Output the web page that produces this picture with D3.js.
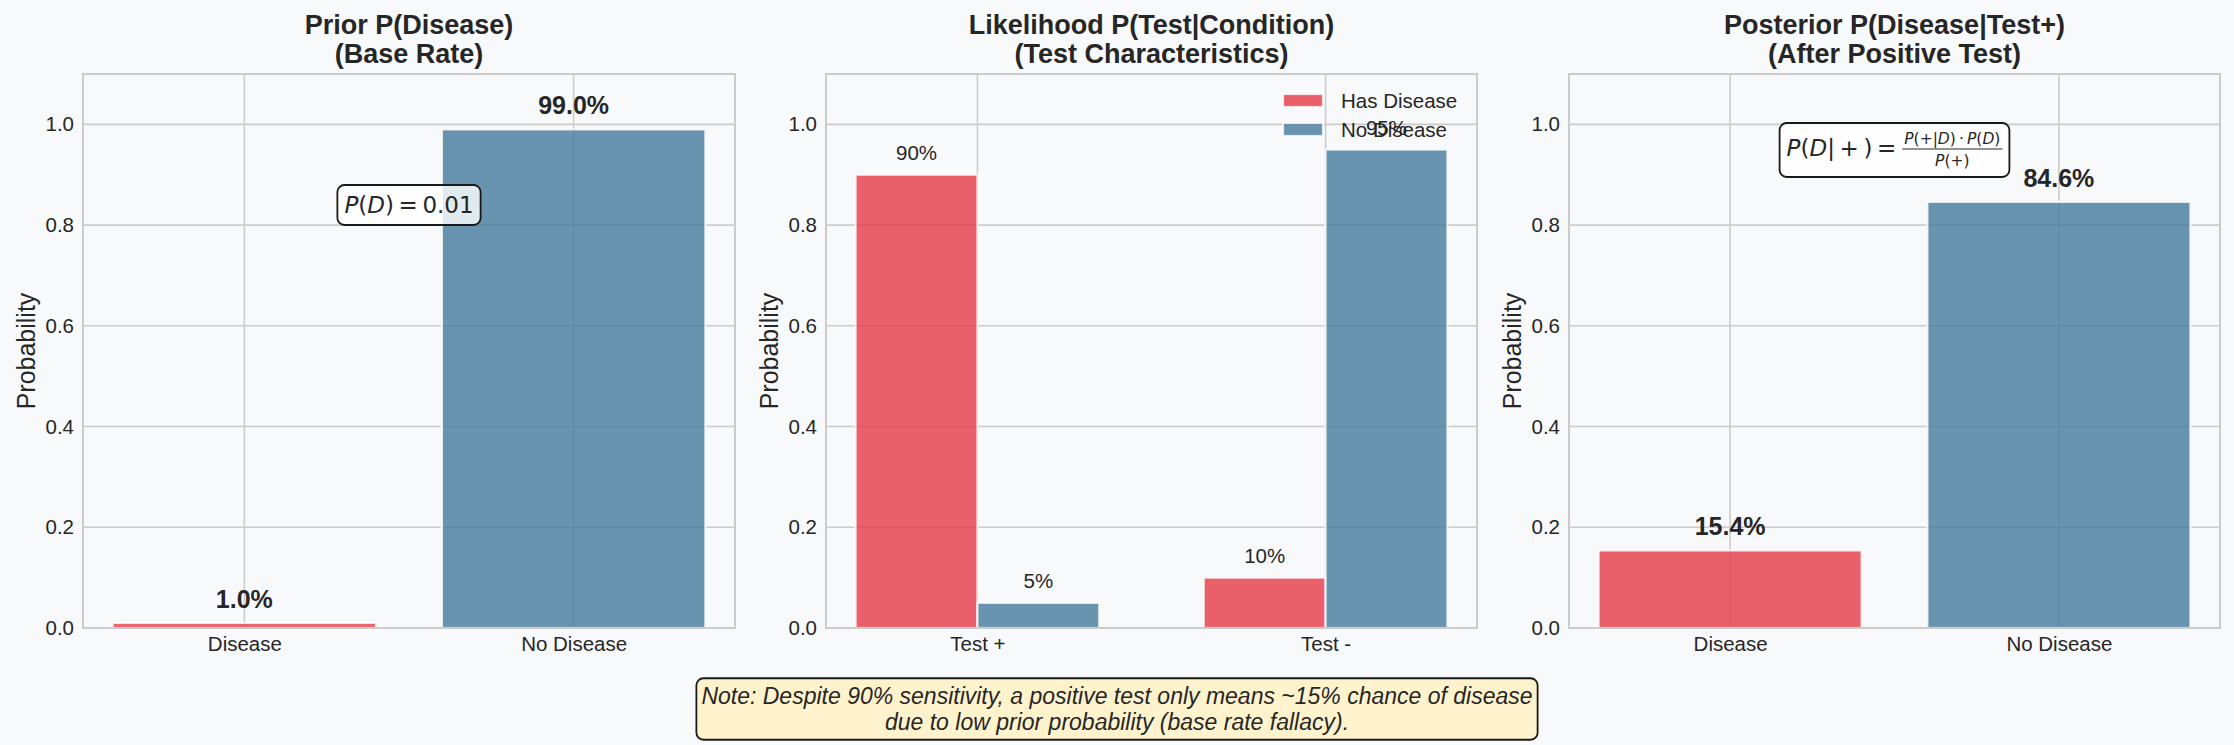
<!DOCTYPE html>
<html>
<head>
<meta charset="utf-8">
<script src="https://cdn.jsdelivr.net/npm/d3@7"></script>
<style>
  body { margin: 0; background: #f8f9fa; }
  svg text { fill: #262626; }
</style>
</head>
<body>
<script>
// data
const priorCats = ["Disease", "No Disease"];
const priorVals = [0.01, 0.99];
const testCats = ["Test +", "Test -"];
const hasDiseaseVals = [0.90, 0.10];
const noDiseaseVals = [0.05, 0.95];
const postCats = ["Disease", "No Disease"];
const postVals = [0.154, 0.846];
const yTicks = [0, 0.2, 0.4, 0.6, 0.8, 1.0];
const legendLabels = ["Has Disease", "No Disease"];
const titles = [
  ["Prior P(Disease)", "(Base Rate)"],
  ["Likelihood P(Test|Condition)", "(Test Characteristics)"],
  ["Posterior P(Disease|Test+)", "(After Positive Test)"]
];
const noteLines = [
  "Note: Despite 90% sensitivity, a positive test only means ~15% chance of disease",
  "due to low prior probability (base rate fallacy)."
];

const W = 2234, H = 745;
const RED = "#E63946", BLUE = "#457B9D";
const SANS = "'Liberation Sans', Arial, sans-serif";
const MATH = "'DejaVu Sans', sans-serif";

const svg = d3.select("body").append("svg")
  .attr("width", W).attr("height", H)
  .style("background", "#f8f9fa");

const axesBoxes = [
  { left: 83, right: 735 },
  { left: 826, right: 1477 },
  { left: 1569, right: 2220 }
];
const axTop = 74, axBottom = 628;
const y = d3.scaleLinear().domain([0, 1.1]).range([axBottom, axTop]);

function panel(i, cats, xDomain) {
  const box = axesBoxes[i];
  const x = d3.scaleLinear().domain(xDomain).range([box.left, box.right]);
  const g = svg.append("g");

  // grid
  g.append("g").selectAll("line").data(yTicks).join("line")
    .attr("x1", box.left).attr("x2", box.right)
    .attr("y1", d => y(d)).attr("y2", d => y(d))
    .attr("stroke", "#cccccc").attr("stroke-width", 1.6);
  g.append("g").selectAll("line").data(cats.map((c, k) => k)).join("line")
    .attr("x1", d => x(d)).attr("x2", d => x(d))
    .attr("y1", axTop).attr("y2", axBottom)
    .attr("stroke", "#cccccc").attr("stroke-width", 1.6);

  // axes
  const ya = g.append("g").attr("transform", `translate(${box.left},0)`)
    .call(d3.axisLeft(y).tickValues(yTicks).tickFormat(d3.format(".1f")).tickSize(0).tickPadding(9));
  const xa = g.append("g").attr("transform", `translate(0,${axBottom})`)
    .call(d3.axisBottom(x).tickValues(cats.map((c, k) => k)).tickFormat(k => cats[k]).tickSize(0).tickPadding(8));
  [ya, xa].forEach(a => {
    a.select(".domain").remove();
    a.selectAll("text").attr("font-family", SANS).attr("font-size", 20.5).style("fill", "#262626");
  });

  // y label
  g.append("text")
    .attr("transform", `translate(${box.left - 57},${(axTop + axBottom) / 2}) rotate(-90)`)
    .attr("text-anchor", "middle").attr("dominant-baseline", "central")
    .attr("font-family", SANS).attr("font-size", 25)
    .text("Probability");

  // title
  const cx = (box.left + box.right) / 2;
  g.append("g").selectAll("text").data(titles[i]).join("text")
    .attr("x", cx).attr("y", (d, k) => 34 + k * 29)
    .attr("text-anchor", "middle")
    .attr("font-family", SANS).attr("font-size", 27).attr("font-weight", "bold")
    .text(d => d);

  const marks = svg.append("g");
  const front = svg.append("g");
  // spines on top of bars
  front.append("rect")
    .attr("x", box.left).attr("y", axTop)
    .attr("width", box.right - box.left).attr("height", axBottom - axTop)
    .attr("fill", "none").attr("stroke", "#cccccc").attr("stroke-width", 2);
  return { x, marks, front, cx };
}

function bars(p, xs, vals, width, color) {
  p.marks.append("g").selectAll("rect").data(vals).join("rect")
    .attr("x", (d, k) => p.x(xs[k] - width / 2))
    .attr("width", (d, k) => p.x(xs[k] + width / 2) - p.x(xs[k] - width / 2))
    .attr("y", d => y(d))
    .attr("height", d => y(0) - y(d))
    .attr("fill", color).attr("fill-opacity", 0.8)
    .attr("stroke", "white").attr("stroke-opacity", 0.8).attr("stroke-width", 2.2);
}

function labels(p, xs, vals, fmt, size, weight) {
  p.front.append("g").selectAll("text").data(vals).join("text")
    .attr("x", (d, k) => p.x(xs[k]))
    .attr("y", d => y(d + 0.02) - size * 0.21)
    .attr("text-anchor", "middle")
    .attr("font-family", SANS).attr("font-size", size).attr("font-weight", weight)
    .text(d => d3.format(fmt)(d));
}

// rounded annotation box around a group, centred on (cx, cy)
function boxed(parent, cx, cy, pad, fill, fillOpacity, build) {
  const g = parent.append("g");
  const bg = g.append("rect");
  const content = g.append("g");
  build(content);
  const bb = content.node().getBBox();
  bg.attr("x", bb.x - pad).attr("y", bb.y - pad)
    .attr("width", bb.width + 2 * pad).attr("height", bb.height + 2 * pad)
    .attr("rx", 7).attr("ry", 7)
    .attr("fill", fill).attr("fill-opacity", fillOpacity)
    .attr("stroke", "#1a1a1a").attr("stroke-width", 1.8);
  const ox = cx - (bb.x + bb.width / 2), oy = cy - (bb.y + bb.height / 2);
  g.attr("transform", `translate(${ox},${oy})`);
  return g;
}

function mathText(sel, parts, size) {
  const t = sel.append("text").attr("font-family", MATH).attr("font-size", size);
  parts.forEach(([s, it]) => t.append("tspan").attr("font-style", it ? "italic" : "normal").text(s));
  return t;
}

const pairColor = (d, k) => k === 0 ? RED : BLUE;

// ---- panel 1: prior
const p1 = panel(0, priorCats, [-0.49, 1.49]);
bars(p1, [0, 1], priorVals, 0.8, pairColor);
labels(p1, [0, 1], priorVals, ".1%", 25, "bold");
boxed(p1.front, p1.cx, 205, 7, "white", 0.8, c => {
  mathText(c, [["P", 1], ["(", 0], ["D", 1], [")\u2009=\u20090.01", 0]], 23);
});

// ---- panel 2: likelihood
const p2 = panel(1, testCats, [-0.435, 1.435]);
const bw = 0.35;
bars(p2, [0 - bw / 2, 1 - bw / 2], hasDiseaseVals, bw, RED);
bars(p2, [0 + bw / 2, 1 + bw / 2], noDiseaseVals, bw, BLUE);
labels(p2, [0 - bw / 2, 1 - bw / 2], hasDiseaseVals, ".0%", 20.5, "normal");
labels(p2, [0 + bw / 2, 1 + bw / 2], noDiseaseVals, ".0%", 20.5, "normal");

const legend = p2.front.append("g").selectAll("g").data(legendLabels).join("g")
  .attr("transform", (d, k) => `translate(1283,${100.5 + k * 29})`);
legend.append("rect")
  .attr("x", 0).attr("y", -6.5).attr("width", 40).attr("height", 13)
  .attr("fill", pairColor).attr("fill-opacity", 0.8)
  .attr("stroke", "white").attr("stroke-opacity", 0.8).attr("stroke-width", 2.2);
legend.append("text")
  .attr("x", 58).attr("y", 7)
  .attr("font-family", SANS).attr("font-size", 20.5)
  .text(d => d);

// ---- panel 3: posterior
const p3 = panel(2, postCats, [-0.49, 1.49]);
bars(p3, [0, 1], postVals, 0.8, pairColor);
labels(p3, [0, 1], postVals, ".1%", 25, "bold");
boxed(p3.front, p3.cx, 150, 7, "white", 0.85, c => {
  const main = mathText(c, [["P", 1], ["(", 0], ["D", 1], ["|\u2009+\u2009)\u2009=", 0]], 23);
  const w1 = main.node().getComputedTextLength();
  const num = mathText(c, [["P", 1], ["(+|", 0], ["D", 1], [")\u2009\u00b7\u2009", 0], ["P", 1], ["(", 0], ["D", 1], [")", 0]], 15.5);
  const den = mathText(c, [["P", 1], ["(+)", 0]], 15.5);
  const nw = num.node().getComputedTextLength();
  const dw = den.node().getComputedTextLength();
  const fx = w1 + 6, fw = Math.max(nw, dw) + 4;
  num.attr("x", fx + (fw - nw) / 2).attr("y", -12);
  den.attr("x", fx + (fw - dw) / 2).attr("y", 10);
  c.append("line").attr("x1", fx).attr("x2", fx + fw)
    .attr("y1", -7).attr("y2", -7).attr("stroke", "#262626").attr("stroke-width", 1.2);
});

// ---- note
boxed(svg, W / 2, 709, 5, "#fff3cd", 1, c => {
  c.selectAll("text").data(noteLines).join("text")
    .attr("x", 0).attr("y", (d, k) => k * 25.5)
    .attr("text-anchor", "middle")
    .attr("font-family", SANS).attr("font-size", 23).attr("font-style", "italic")
    .text(d => d);
});
</script>
</body>
</html>
